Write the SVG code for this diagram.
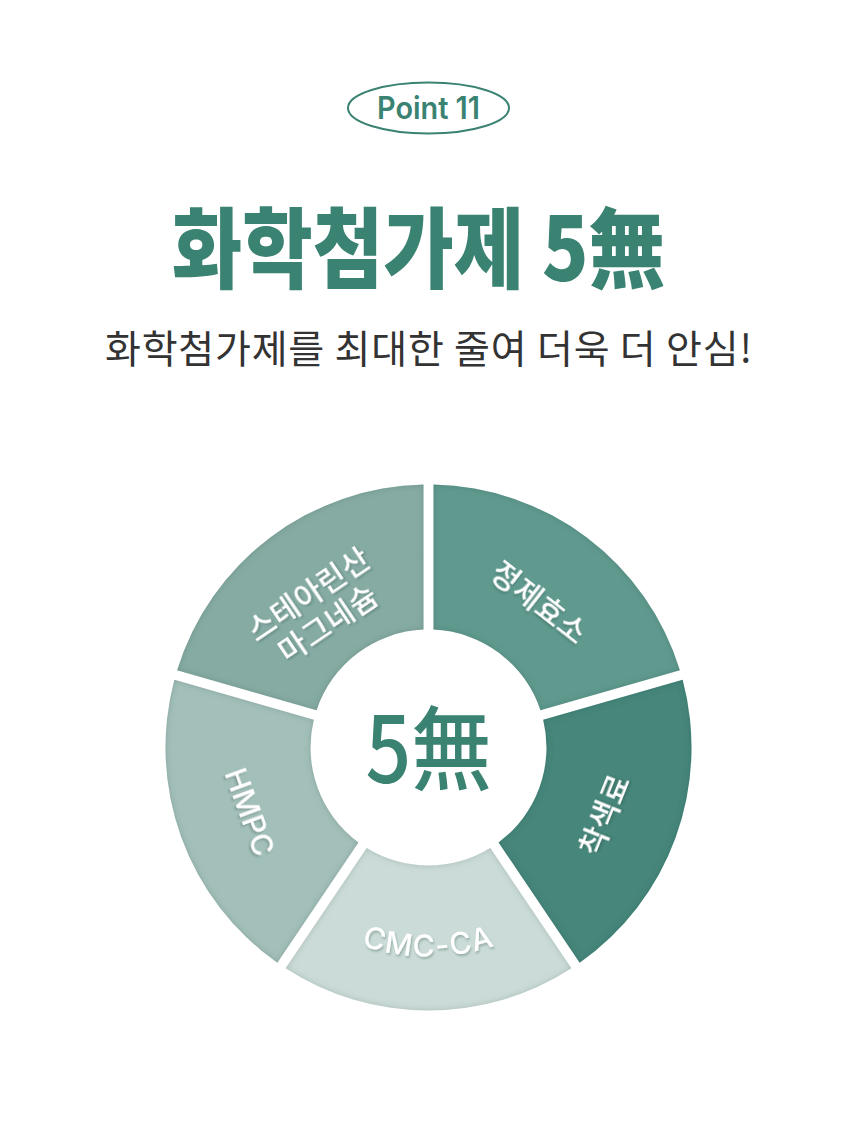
<svg xmlns="http://www.w3.org/2000/svg" width="858" height="1130" viewBox="0 0 858 1130">
<defs>
<style>
.kr{font-family:"Noto Sans CJK KR","Noto Sans",sans-serif;}
.lat{font-family:Inter,"Noto Sans CJK KR",sans-serif;}
.green{fill:#3a8272;}
.lbl{fill:#ffffff;font-size:30px;font-weight:500;text-anchor:middle;filter:url(#tshadow);}
.seg{filter:url(#inset);}
</style>
<filter id="inset" x="-10%" y="-10%" width="120%" height="120%">
<feFlood flood-color="#1f4a42" flood-opacity="0.35" result="f"/>
<feComposite in="f" in2="SourceAlpha" operator="out" result="o"/>
<feGaussianBlur in="o" stdDeviation="3" result="b"/>
<feComposite in="b" in2="SourceAlpha" operator="in" result="s"/>
<feMerge><feMergeNode in="SourceGraphic"/><feMergeNode in="s"/></feMerge>
</filter>
<filter id="tshadow" x="-20%" y="-30%" width="140%" height="160%">
<feDropShadow dx="1" dy="2" stdDeviation="1.2" flood-color="#1f3f39" flood-opacity="0.3"/>
</filter>
<path id="cmcArc" d="M247.5,852 A209,209 0 0 0 609.5,852"/>
</defs>
<rect x="0" y="0" width="858" height="1130" fill="#ffffff"/>

<g id="badge">
<ellipse cx="428.5" cy="108" rx="80.5" ry="25.5" fill="none" stroke="#3a8272" stroke-width="2"/>
<text class="lat green" x="428.5" y="119" font-size="31" font-weight="600" text-anchor="middle" textLength="103" lengthAdjust="spacingAndGlyphs">Point 11</text>
</g>

<g id="title">
<text class="kr green" transform="translate(418.5 281) scale(0.87 1)" x="0" y="0" font-size="88" font-weight="900" text-anchor="middle" textLength="567" lengthAdjust="spacing">화학첨가제 5無</text>
</g>

<g id="subtitle">
<text class="kr" x="428.5" y="363" font-size="39" font-weight="400" fill="#333333" text-anchor="middle" textLength="647" lengthAdjust="spacing">화학첨가제를 최대한 줄여 더욱 더 안심!</text>
</g>

<g id="seg-enzyme">
<path class="seg" fill="#619a8f" d="M433.5,484.55 A263,263 0 0 1 679.89,670.21 L540.45,710.20 A118,118 0 0 0 433.5,629.61 Z"/>
<g transform="translate(539 603) rotate(38)"><text class="kr lbl" x="0" y="10" letter-spacing="0.5">정제효소</text></g>
</g>

<g id="seg-color">
<path class="seg" fill="#46867a" d="M682.64,679.83 A263,263 0 0 1 579.68,962.70 L498.57,842.44 A118,118 0 0 0 543.21,719.81 Z"/>
<g transform="translate(605 815) rotate(-68)"><text class="kr lbl" x="0" y="10" letter-spacing="0.5">착색료</text></g>
</g>

<g id="seg-cmc">
<path class="seg" fill="#cbdcd8" d="M571.40,968.29 A263,263 0 0 1 285.60,968.29 L366.72,848.03 A118,118 0 0 0 490.28,848.03 Z"/>
<text class="lat lbl" font-size="33" letter-spacing="1.5"><textPath href="#cmcArc" startOffset="50%" text-anchor="middle">CMC-CA</textPath></text>
</g>

<g id="seg-hmpc">
<path class="seg" fill="#a3bfb9" d="M277.32,962.70 A263,263 0 0 1 174.36,679.83 L313.79,719.81 A118,118 0 0 0 358.43,842.44 Z"/>
<g transform="translate(250 812) rotate(70)"><text class="lat lbl" font-size="32" x="0" y="11">HMPC</text></g>
</g>

<g id="seg-stearate">
<path class="seg" fill="#85aba3" d="M177.11,670.21 A263,263 0 0 1 423.5,484.55 L423.5,629.61 A118,118 0 0 0 316.55,710.20 Z"/>
<g transform="translate(318.3 608.8) rotate(-34)">
<text class="kr lbl" x="0" y="-7" letter-spacing="0.5">스테아린산</text>
<text class="kr lbl" x="0" y="28" letter-spacing="0.5">마그네슘</text>
</g>
</g>

<g id="center">
<text class="kr green" x="428.5" y="783" font-size="92" font-weight="500" text-anchor="middle" textLength="126" lengthAdjust="spacingAndGlyphs">5無</text>
</g>
<g id="connectors"></g>
</svg>
